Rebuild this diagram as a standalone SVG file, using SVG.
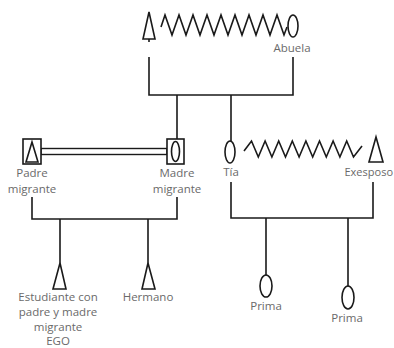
<svg xmlns="http://www.w3.org/2000/svg" width="394" height="348" viewBox="0 0 394 348">
<style>
.ln{fill:none;stroke:#1a1a1a;stroke-width:1.6;stroke-linejoin:miter}
.sym{fill:#fff;stroke:#1a1a1a;stroke-width:1.6}
.t{font-family:"Open Sans","Noto Sans",sans-serif;font-size:11.5px;fill:#6a6a6a;text-anchor:middle}
</style>
<rect width="394" height="348" fill="#fff"/>
<g id="connectors">
<path class="ln" d="M161,27 L165,15 L172,35 L179,15 L186,35 L193,15 L200,35 L207,15 L214,35 L221,15 L228,35 L235,15 L242,35 L249,15 L256,35 L263,15 L270,35 L277,15 L284,35 L287,27"/>
<path class="ln" d="M149,57 V95 H293 V57 M177,95 V139 M231,95 V141"/>
<rect x="41" y="148.5" width="126" height="6" fill="#fff" stroke="#1a1a1a" stroke-width="1.4"/>
<path class="ln" d="M244,151 L251.5,141 L258.3,157 L265.1,141 L271.9,157 L278.7,141 L285.5,157 L292.3,141 L299.1,157 L305.9,141 L312.7,157 L319.5,141 L326.3,157 L333.1,141 L339.9,157 L346.7,141 L353.5,157 L362,146"/>
<path class="ln" d="M32,197 V219 H177 V197 M60,219 V263 M148,219 V263"/>
<path class="ln" d="M231,182 V218 H373 V182 M266,218 V275 M348,218 V286"/>
</g>
<g id="abuelo"><path class="sym" d="M149,12 L143,39 L155,39 Z M149,39 V42"/></g>
<g id="abuela"><ellipse class="sym" cx="293" cy="26" rx="5" ry="11"/><text class="t" x="292" y="52">Abuela</text></g>
<g id="padre"><rect class="sym" x="23" y="139" width="18" height="25"/><path class="sym" d="M32,142 L26,162 L38,162 Z"/><text class="t" x="32" y="177">Padre</text><text class="t" x="32" y="193">migrante</text></g>
<g id="madre"><rect class="sym" x="167" y="139" width="17" height="25"/><ellipse class="sym" cx="175.5" cy="151.5" rx="4" ry="10"/><text class="t" x="177" y="177">Madre</text><text class="t" x="177" y="193">migrante</text></g>
<g id="tia"><ellipse class="sym" cx="230" cy="152" rx="5" ry="11"/><text class="t" x="231" y="176">Tía</text></g>
<g id="exesposo"><path class="sym" d="M376,137 L369,162 L383,162 Z"/><text class="t" x="393" y="176" style="text-anchor:end;font-size:11px">Exesposo</text></g>
<g id="ego"><path class="sym" d="M60,263 L53,289 L66,289 Z"/><text class="t" x="58" y="301">Estudiante con</text><text class="t" x="58" y="316">padre y madre</text><text class="t" x="58" y="331">migrante</text><text class="t" x="58" y="345">EGO</text></g>
<g id="hermano"><path class="sym" d="M148,263 L142,289 L155,289 Z"/><text class="t" x="148" y="301">Hermano</text></g>
<g id="prima1"><ellipse class="sym" cx="266" cy="286" rx="6" ry="11"/><text class="t" x="266" y="310">Prima</text></g>
<g id="prima2"><ellipse class="sym" cx="348" cy="297.5" rx="6" ry="11.5"/><text class="t" x="347" y="322">Prima</text></g>
</svg>
